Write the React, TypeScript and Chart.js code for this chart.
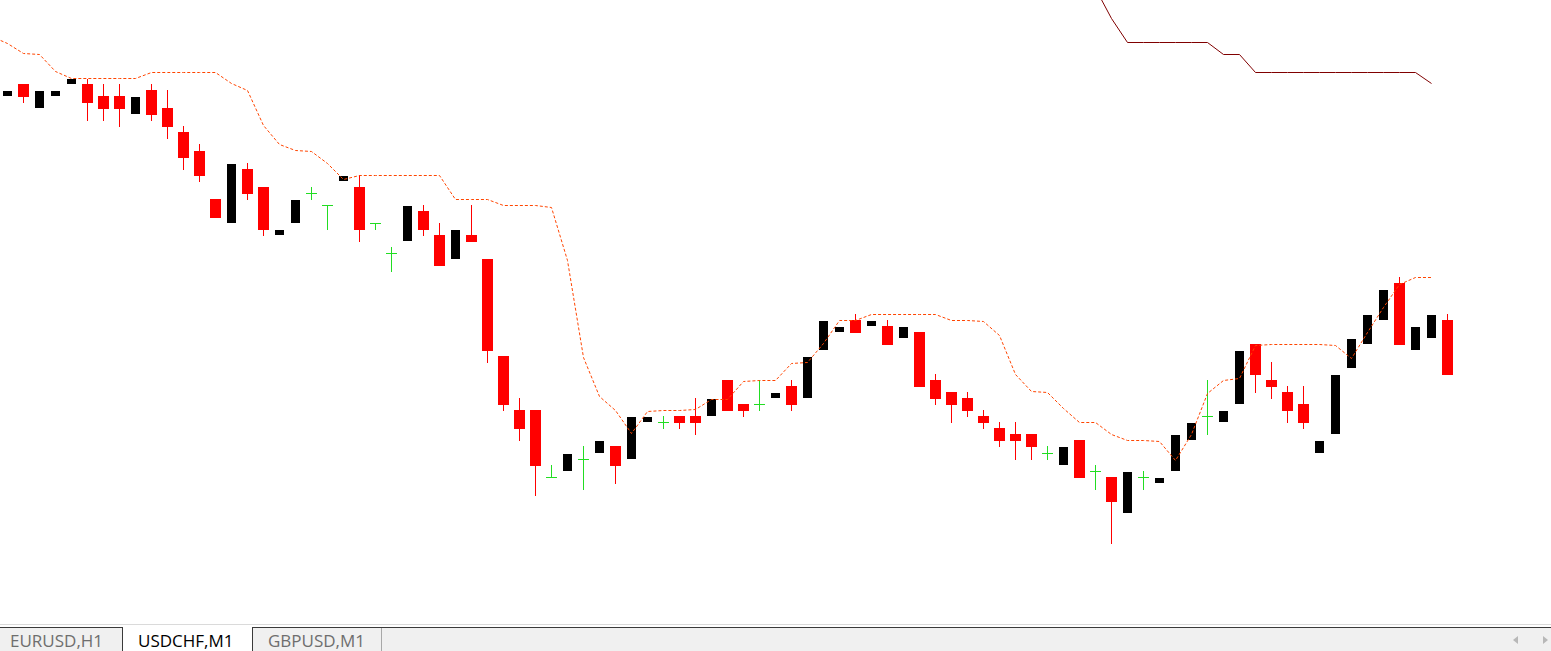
import React, { useEffect, useRef } from "react";
import { Chart, registerables } from "chart.js";

Chart.register(...registerables);

// USDCHF, M1 — one entry per bar (bar index 0..90)
const opens = [
  0.91904, 0.91916, 0.91892, 0.91904, 0.91916, 0.91916, 0.91904, 0.91904, 0.91886, 0.9191,
  0.91892, 0.91868, 0.91849, 0.91801, 0.91777, 0.91831, 0.91813, 0.91765, 0.91777, 0.91806,
  0.91794, 0.91819, 0.91813, 0.91776, 0.91746, 0.91759, 0.91789, 0.91765, 0.91741, 0.91765,
  0.91741, 0.91644, 0.9159, 0.9159, 0.91522, 0.91529, 0.9154, 0.91547, 0.91554, 0.91541,
  0.91578, 0.91577, 0.91584, 0.91584, 0.91584, 0.9162, 0.91596, 0.91595, 0.91602, 0.91614,
  0.91602, 0.9165, 0.91668, 0.9168, 0.91674, 0.91674, 0.91662, 0.91668, 0.9162, 0.91608,
  0.91602, 0.91584, 0.91572, 0.91566, 0.91566, 0.91546, 0.91535, 0.9156, 0.91528, 0.91523,
  0.91487, 0.91522, 0.91517, 0.91529, 0.9156, 0.91583, 0.91578, 0.91596, 0.91656, 0.9162,
  0.91608, 0.91596, 0.91547, 0.91566, 0.91632, 0.91656, 0.9168, 0.91717, 0.9165, 0.91662,
  0.9168,
];
const highs = [
  0.91909, 0.91916, 0.91909, 0.91909, 0.91921, 0.91921, 0.91916, 0.91916, 0.91903, 0.91916,
  0.9191, 0.91874, 0.91856, 0.91801, 0.91836, 0.91837, 0.91813, 0.9177, 0.918, 0.91813,
  0.91795, 0.91824, 0.91825, 0.91777, 0.91753, 0.91794, 0.91795, 0.91777, 0.9177, 0.91795,
  0.91741, 0.91644, 0.91602, 0.9159, 0.91535, 0.91546, 0.91554, 0.91559, 0.91554, 0.91583,
  0.91583, 0.91584, 0.91584, 0.91602, 0.91601, 0.9162, 0.91596, 0.9162, 0.91607, 0.9162,
  0.91643, 0.91679, 0.91673, 0.91686, 0.91679, 0.9168, 0.91673, 0.91668, 0.91626, 0.91608,
  0.91608, 0.9159, 0.91578, 0.91578, 0.91566, 0.91554, 0.91553, 0.9156, 0.91535, 0.91523,
  0.91528, 0.91529, 0.91522, 0.91565, 0.91577, 0.9162, 0.91589, 0.91649, 0.91656, 0.91638,
  0.91614, 0.91614, 0.91559, 0.91625, 0.91661, 0.91685, 0.9171, 0.91723, 0.91673, 0.91685,
  0.91686,
];
const lows = [
  0.91904, 0.91897, 0.91892, 0.91904, 0.91916, 0.91879, 0.91879, 0.91873, 0.91886, 0.91879,
  0.91861, 0.9183, 0.91818, 0.91782, 0.91777, 0.918, 0.91764, 0.91765, 0.91777, 0.918,
  0.9177, 0.91819, 0.91758, 0.9177, 0.91728, 0.91759, 0.91764, 0.91734, 0.91741, 0.91758,
  0.91637, 0.91589, 0.91559, 0.91504, 0.91522, 0.91529, 0.9151, 0.91547, 0.91516, 0.91541,
  0.91578, 0.91571, 0.91571, 0.91565, 0.91584, 0.91589, 0.91583, 0.91589, 0.91602, 0.91589,
  0.91602, 0.9165, 0.91668, 0.91667, 0.91674, 0.91655, 0.91662, 0.91613, 0.91595, 0.91577,
  0.91583, 0.91571, 0.91553, 0.9154, 0.9154, 0.9154, 0.91535, 0.91522, 0.9151, 0.91456,
  0.91487, 0.9151, 0.91517, 0.91529, 0.9156, 0.91565, 0.91578, 0.91596, 0.91607, 0.91601,
  0.91577, 0.91571, 0.91547, 0.91566, 0.91632, 0.91656, 0.9168, 0.91655, 0.9165, 0.91662,
  0.91625,
];
const closes = [
  0.91909, 0.91903, 0.91909, 0.91909, 0.91921, 0.91897, 0.91891, 0.91891, 0.91903, 0.91885,
  0.91873, 0.91842, 0.91824, 0.91782, 0.91836, 0.91806, 0.9177, 0.9177, 0.918, 0.91806,
  0.91794, 0.91824, 0.9177, 0.91776, 0.91746, 0.91794, 0.9177, 0.91734, 0.9177, 0.91758,
  0.91649, 0.91595, 0.91571, 0.91534, 0.91522, 0.91546, 0.9154, 0.91559, 0.91534, 0.91583,
  0.91583, 0.91577, 0.91577, 0.91577, 0.91601, 0.91589, 0.91589, 0.91595, 0.91607, 0.91595,
  0.91643, 0.91679, 0.91673, 0.91667, 0.91679, 0.91655, 0.91673, 0.91613, 0.91601, 0.91595,
  0.91589, 0.91577, 0.91559, 0.91559, 0.91553, 0.91546, 0.91553, 0.91522, 0.91528, 0.91498,
  0.91528, 0.91522, 0.91522, 0.91565, 0.91577, 0.91583, 0.91589, 0.91649, 0.91625, 0.91613,
  0.91589, 0.91577, 0.91559, 0.91625, 0.91661, 0.91685, 0.9171, 0.91655, 0.91673, 0.91685,
  0.91625,
];

// Trailing stop (orange-red dotted), starting at bar index -1
const trailStart = -1;
const trailStop = [
  0.919635, 0.919565, 0.919465, 0.919455, 0.919285, 0.919215, 0.919215, 0.919215, 0.919215, 0.919215,
  0.919275, 0.919275, 0.919275, 0.919275, 0.919275, 0.919165, 0.919095, 0.918745, 0.918555, 0.918495,
  0.918485, 0.918365, 0.918205, 0.918245, 0.918245, 0.918245, 0.918245, 0.918245, 0.918245, 0.918005,
  0.918005, 0.918005, 0.917945, 0.917945, 0.917945, 0.917925, 0.917395, 0.916425, 0.916035, 0.915895,
  0.915665, 0.915885, 0.915895, 0.915895, 0.915905, 0.916005, 0.916005, 0.916185, 0.916195, 0.916195,
  0.916365, 0.916375, 0.916565, 0.916795, 0.916795, 0.916855, 0.916855, 0.916855, 0.916855, 0.916855,
  0.916795, 0.916795, 0.916785, 0.916645, 0.916255, 0.916085, 0.916075, 0.915915, 0.915775, 0.915775,
  0.915655, 0.915595, 0.915595, 0.915585, 0.915395, 0.915655, 0.916065, 0.916195, 0.916215, 0.916545,
  0.916555, 0.916555, 0.916555, 0.916555, 0.916545, 0.916415, 0.916675, 0.916925, 0.917155, 0.917225,
  0.917225,
];

// Second stop line (maroon), starting at bar index 67
const stopStart = 67;
const stopLine = [
  0.920445, 0.920115, 0.919815, 0.919575, 0.919575, 0.919575, 0.919575, 0.919575, 0.919575, 0.919455,
  0.919455, 0.919275, 0.919275, 0.919275, 0.919275, 0.919275, 0.919275, 0.919275, 0.919275, 0.919275,
  0.919275, 0.919275, 0.919165,
];

const tabs = ["EURUSD,H1", "USDCHF,M1", "GBPUSD,M1"];
const activeTab = 1;

const PRICE_TOP = 0.92;
const PRICE_BOTTOM = 0.91376;
const BAR_MIN = -0.46875;
const BAR_MAX = 96.46875;

export default function App() {
  const ref = useRef<HTMLCanvasElement>(null);

  useEffect(() => {
    const canvas = ref.current;
    if (!canvas) return;
    const bullBody: any[] = [];
    const bearBody: any[] = [];
    const bearWick: any[] = [];
    const dojiBody: any[] = [];
    const dojiWick: any[] = [];
    opens.forEach((o, i) => {
      const c = closes[i];
      if (c > o) {
        bullBody.push({ x: i, y: [o, c] });
      } else if (c < o) {
        bearBody.push({ x: i, y: [c, o] });
        bearWick.push({ x: i, y: [lows[i], highs[i]] });
      } else {
        dojiBody.push({ x: i, y: [o, c] });
        dojiWick.push({ x: i, y: [lows[i], highs[i]] });
      }
    });
    const barBase = { grouped: false, inflateAmount: 0, borderWidth: 0 };
    const chart = new Chart(canvas, {
      type: "bar",
      data: {
        datasets: [
          {
            type: "line",
            data: trailStop.map((v, k) => ({ x: trailStart + k, y: v })),
            borderColor: "#ff4500",
            borderWidth: 1,
            borderDash: [3, 2],
            pointRadius: 0,
            fill: false,
            tension: 0,
            order: 0,
          } as any,
          {
            type: "line",
            data: stopLine.map((v, k) => ({ x: stopStart + k, y: v })),
            borderColor: "#800000",
            borderWidth: 1,
            pointRadius: 0,
            fill: false,
            tension: 0,
            order: 1,
          } as any,
          { ...barBase, data: dojiBody, backgroundColor: "#22dd22", barThickness: 11, minBarLength: 1, order: 2 },
          { ...barBase, data: bearBody, backgroundColor: "#ff0000", barThickness: 11, order: 3 },
          { ...barBase, data: bullBody, backgroundColor: "#000000", barThickness: 9, order: 4 },
          { ...barBase, data: dojiWick, backgroundColor: "#22dd22", barThickness: 1, order: 5 },
          { ...barBase, data: bearWick, backgroundColor: "#ff0000", barThickness: 1, order: 6 },
        ] as any,
      },
      options: {
        animation: false,
        responsive: false,
        devicePixelRatio: 1,
        events: [],
        layout: { padding: 0 },
        plugins: { legend: { display: false }, tooltip: { enabled: false }, title: { display: false } },
        scales: {
          x: { type: "linear", display: false, min: BAR_MIN, max: BAR_MAX, offset: false, grid: { offset: false } },
          y: { type: "linear", display: false, min: PRICE_BOTTOM, max: PRICE_TOP },
        },
      } as any,
    });
    return () => chart.destroy();
  }, []);

  const tabLefts = [0, 122, 254];
  const tabWidths = [121, 131, 128];
  const textLefts = [10, 138, 268];

  return (
    <div
      style={{
        position: "fixed",
        left: 0,
        top: 0,
        width: 1551,
        height: 651,
        background: "#ffffff",
        overflow: "hidden",
        fontFamily: "'Open Sans', 'Noto Sans', sans-serif",
      }}
    >
      <canvas ref={ref} width={1551} height={624} style={{ display: "block", width: 1551, height: 624 }} />
      <div style={{ position: "absolute", left: 0, top: 624, width: 1551, height: 1, background: "#dadada" }} />
      <div style={{ position: "absolute", left: 0, top: 627, width: 1551, height: 24, background: "#f0f0f0" }} />
      <div style={{ position: "absolute", left: 0, top: 627, width: 1551, height: 1, background: "#3a3a3a" }} />
      {tabs.map((t, k) => {
        const active = k === activeTab;
        return (
          <div
            key={t}
            style={{
              position: "absolute",
              left: tabLefts[k],
              top: active ? 627 : 628,
              width: tabWidths[k],
              height: active ? 24 : 23,
              background: active ? "#ffffff" : "#f0f0f0",
              borderLeft: active ? "1px solid #3a3a3a" : "none",
              borderRight: active ? "1px solid #3a3a3a" : k === 2 ? "1px solid #a8a8a8" : "none",
              boxSizing: "border-box",
            }}
          />
        );
      })}
      {tabs.map((t, k) => (
        <div
          key={"t" + t}
          style={{
            position: "absolute",
            left: textLefts[k],
            top: 629,
            height: 22,
            lineHeight: "23px",
            fontSize: 17,
            color: k === activeTab ? "#000000" : "#6e6e6e",
            whiteSpace: "nowrap",
          }}
        >
          {t}
        </div>
      ))}
      <div
        style={{
          position: "absolute",
          left: 1513,
          top: 636,
          width: 0,
          height: 0,
          borderTop: "4px solid transparent",
          borderBottom: "4px solid transparent",
          borderRight: "5px solid #b8b8b8",
        }}
      />
      <div
        style={{
          position: "absolute",
          left: 1543,
          top: 636,
          width: 0,
          height: 0,
          borderTop: "4px solid transparent",
          borderBottom: "4px solid transparent",
          borderLeft: "5px solid #b8b8b8",
        }}
      />
    </div>
  );
}
